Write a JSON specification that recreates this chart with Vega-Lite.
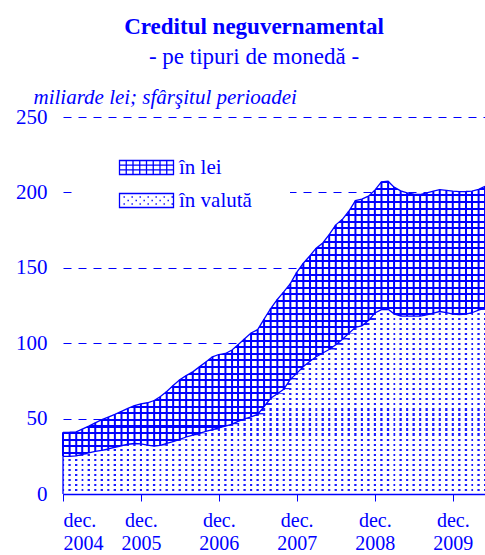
{
  "$schema": "https://vega.github.io/schema/vega-lite/v6.json",
  "width": 422,
  "height": 377,
  "autosize": "none",
  "padding": {"left": 63, "top": 117, "right": 0, "bottom": 61},
  "background": "white",
  "title": {
    "text": "Creditul neguvernamental",
    "subtitle": "- pe tipuri de monedă -",
    "anchor": "middle",
    "frame": "group",
    "dx": -20,
    "offset": 17,
    "font": "Liberation Serif",
    "fontSize": 23,
    "fontWeight": "bold",
    "color": "#0000ff",
    "subtitleFont": "Liberation Serif",
    "subtitleFontSize": 23,
    "subtitleColor": "#0000ff",
    "subtitlePadding": 7
  },
  "config": {
    "view": {"stroke": null},
    "font": "Liberation Serif",
    "axisY": {
      "domain": false,
      "ticks": false,
      "grid": true,
      "gridColor": "#0000ff",
      "gridDash": [8, 7],
      "gridWidth": 1,
      "tickCount": 5,
      "labelFont": "Liberation Serif",
      "labelFontSize": 21,
      "labelColor": "#0000ff",
      "labelPadding": 16,
      "titleAngle": 0,
      "titleAlign": "left",
      "titleBaseline": "alphabetic",
      "titleX": -30,
      "titleY": -14,
      "titleFont": "Liberation Serif",
      "titleFontStyle": "italic",
      "titleFontWeight": "normal",
      "titleFontSize": 21,
      "titleColor": "#0000ff"
    },
    "axisX": {
      "grid": false,
      "domainColor": "#0000ff",
      "domainWidth": 1.5,
      "tickColor": "#0000ff",
      "tickSize": 7,
      "tickWidth": 1,
      "labelFont": "Liberation Serif",
      "labelFontSize": 20,
      "labelColor": "#0000ff",
      "labelPadding": 9,
      "labelLineHeight": 23
    }
  },
  "data": {
    "values": [
      {"date": "2004-12-01", "valuta": 25.0, "lei": 15.9, "total": 40.9},
      {"date": "2005-01-01", "valuta": 25.0, "lei": 16.0, "total": 41.0},
      {"date": "2005-02-01", "valuta": 25.3, "lei": 15.9, "total": 41.2},
      {"date": "2005-03-01", "valuta": 26.3, "lei": 16.7, "total": 43.0},
      {"date": "2005-04-01", "valuta": 27.3, "lei": 17.7, "total": 45.0},
      {"date": "2005-05-01", "valuta": 28.2, "lei": 19.0, "total": 47.2},
      {"date": "2005-06-01", "valuta": 29.0, "lei": 20.3, "total": 49.3},
      {"date": "2005-07-01", "valuta": 30.0, "lei": 21.0, "total": 51.0},
      {"date": "2005-08-01", "valuta": 31.0, "lei": 21.8, "total": 52.8},
      {"date": "2005-09-01", "valuta": 32.0, "lei": 22.8, "total": 54.8},
      {"date": "2005-10-01", "valuta": 33.0, "lei": 23.8, "total": 56.8},
      {"date": "2005-11-01", "valuta": 33.5, "lei": 25.1, "total": 58.6},
      {"date": "2005-12-01", "valuta": 33.3, "lei": 26.5, "total": 59.8},
      {"date": "2006-01-01", "valuta": 32.4, "lei": 28.1, "total": 60.5},
      {"date": "2006-02-01", "valuta": 31.7, "lei": 30.3, "total": 62.0},
      {"date": "2006-03-01", "valuta": 32.2, "lei": 32.3, "total": 64.5},
      {"date": "2006-04-01", "valuta": 33.5, "lei": 34.5, "total": 68.0},
      {"date": "2006-05-01", "valuta": 34.8, "lei": 37.1, "total": 71.9},
      {"date": "2006-06-01", "valuta": 36.2, "lei": 39.6, "total": 75.8},
      {"date": "2006-07-01", "valuta": 37.8, "lei": 40.7, "total": 78.5},
      {"date": "2006-08-01", "valuta": 39.0, "lei": 42.0, "total": 81.0},
      {"date": "2006-09-01", "valuta": 40.2, "lei": 44.1, "total": 84.3},
      {"date": "2006-10-01", "valuta": 41.5, "lei": 46.1, "total": 87.6},
      {"date": "2006-11-01", "valuta": 42.7, "lei": 48.3, "total": 91.0},
      {"date": "2006-12-01", "valuta": 43.8, "lei": 48.7, "total": 92.5},
      {"date": "2007-01-01", "valuta": 45.0, "lei": 48.2, "total": 93.2},
      {"date": "2007-02-01", "valuta": 46.3, "lei": 49.2, "total": 95.5},
      {"date": "2007-03-01", "valuta": 48.2, "lei": 50.8, "total": 99.0},
      {"date": "2007-04-01", "valuta": 49.8, "lei": 53.2, "total": 103.0},
      {"date": "2007-05-01", "valuta": 51.2, "lei": 55.6, "total": 106.8},
      {"date": "2007-06-01", "valuta": 52.8, "lei": 56.2, "total": 109.0},
      {"date": "2007-07-01", "valuta": 58.0, "lei": 58.0, "total": 116.0},
      {"date": "2007-08-01", "valuta": 63.5, "lei": 59.5, "total": 123.0},
      {"date": "2007-09-01", "valuta": 66.5, "lei": 62.5, "total": 129.0},
      {"date": "2007-10-01", "valuta": 69.5, "lei": 64.5, "total": 134.0},
      {"date": "2007-11-01", "valuta": 76.0, "lei": 63.5, "total": 139.5},
      {"date": "2007-12-01", "valuta": 80.0, "lei": 67.0, "total": 147.0},
      {"date": "2008-01-01", "valuta": 84.5, "lei": 68.5, "total": 153.0},
      {"date": "2008-02-01", "valuta": 88.0, "lei": 70.0, "total": 158.0},
      {"date": "2008-03-01", "valuta": 91.0, "lei": 72.0, "total": 163.0},
      {"date": "2008-04-01", "valuta": 93.5, "lei": 73.0, "total": 166.5},
      {"date": "2008-05-01", "valuta": 95.8, "lei": 76.2, "total": 172.0},
      {"date": "2008-06-01", "valuta": 99.0, "lei": 79.5, "total": 178.5},
      {"date": "2008-07-01", "valuta": 102.4, "lei": 79.6, "total": 182.0},
      {"date": "2008-08-01", "valuta": 106.5, "lei": 81.0, "total": 187.5},
      {"date": "2008-09-01", "valuta": 110.5, "lei": 84.0, "total": 194.5},
      {"date": "2008-10-01", "valuta": 111.5, "lei": 84.0, "total": 195.5},
      {"date": "2008-11-01", "valuta": 115.0, "lei": 82.5, "total": 197.5},
      {"date": "2008-12-01", "valuta": 120.0, "lei": 81.5, "total": 201.5},
      {"date": "2009-01-01", "valuta": 122.3, "lei": 84.7, "total": 207.0},
      {"date": "2009-02-01", "valuta": 122.5, "lei": 84.9, "total": 207.4},
      {"date": "2009-03-01", "valuta": 119.5, "lei": 84.0, "total": 203.5},
      {"date": "2009-04-01", "valuta": 118.0, "lei": 83.0, "total": 201.0},
      {"date": "2009-05-01", "valuta": 117.9, "lei": 81.8, "total": 199.7},
      {"date": "2009-06-01", "valuta": 117.9, "lei": 80.9, "total": 198.8},
      {"date": "2009-07-01", "valuta": 118.0, "lei": 80.6, "total": 198.6},
      {"date": "2009-08-01", "valuta": 118.8, "lei": 80.9, "total": 199.7},
      {"date": "2009-09-01", "valuta": 120.0, "lei": 80.8, "total": 200.8},
      {"date": "2009-10-01", "valuta": 121.0, "lei": 80.8, "total": 201.8},
      {"date": "2009-11-01", "valuta": 120.3, "lei": 81.0, "total": 201.3},
      {"date": "2009-12-01", "valuta": 119.3, "lei": 81.5, "total": 200.8},
      {"date": "2010-01-01", "valuta": 119.0, "lei": 81.5, "total": 200.5},
      {"date": "2010-02-01", "valuta": 119.3, "lei": 81.3, "total": 200.6},
      {"date": "2010-03-01", "valuta": 120.2, "lei": 80.6, "total": 200.8},
      {"date": "2010-04-01", "valuta": 122.0, "lei": 80.0, "total": 202.0},
      {"date": "2010-05-01", "valuta": 123.5, "lei": 80.5, "total": 204.0}
    ]
  },
  "encoding": {
    "x": {
      "field": "date",
      "type": "temporal",
      "scale": {
        "type": "utc",
        "domain": [
          {"year": 2004, "month": 12, "date": 1, "utc": true},
          {"year": 2010, "month": 5, "date": 1, "utc": true}
        ]
      },
      "axis": {
        "title": null,
        "zindex": 1,
        "values": [
          {"year": 2004, "month": 12, "date": 1, "utc": true},
          {"year": 2005, "month": 12, "date": 1, "utc": true},
          {"year": 2006, "month": 12, "date": 1, "utc": true},
          {"year": 2007, "month": 12, "date": 1, "utc": true},
          {"year": 2008, "month": 12, "date": 1, "utc": true},
          {"year": 2009, "month": 12, "date": 1, "utc": true}
        ],
        "labelExpr": "['dec.', utcFormat(datum.value, '%Y')]"
      }
    }
  },
  "layer": [
    {
      "mark": {
        "type": "area",
        "interpolate": "linear",
        "color": {
          "gradient": "linear", "x1": 0, "y1": 0, "x2": 0, "y2": 1,
          "stops": [
            {"offset": 0, "color": "#1a1aff"}, {"offset": 0.0118, "color": "#1a1aff"}, {"offset": 0.0118, "color": "#fff"}, {"offset": 0.027, "color": "#fff"},
            {"offset": 0.027, "color": "#1a1aff"}, {"offset": 0.0388, "color": "#1a1aff"}, {"offset": 0.0388, "color": "#fff"}, {"offset": 0.054, "color": "#fff"},
            {"offset": 0.054, "color": "#1a1aff"}, {"offset": 0.0658, "color": "#1a1aff"}, {"offset": 0.0658, "color": "#fff"}, {"offset": 0.081, "color": "#fff"},
            {"offset": 0.081, "color": "#1a1aff"}, {"offset": 0.0928, "color": "#1a1aff"}, {"offset": 0.0928, "color": "#fff"}, {"offset": 0.108, "color": "#fff"},
            {"offset": 0.108, "color": "#1a1aff"}, {"offset": 0.1198, "color": "#1a1aff"}, {"offset": 0.1198, "color": "#fff"}, {"offset": 0.135, "color": "#fff"},
            {"offset": 0.135, "color": "#1a1aff"}, {"offset": 0.1468, "color": "#1a1aff"}, {"offset": 0.1468, "color": "#fff"}, {"offset": 0.162, "color": "#fff"},
            {"offset": 0.162, "color": "#1a1aff"}, {"offset": 0.1738, "color": "#1a1aff"}, {"offset": 0.1738, "color": "#fff"}, {"offset": 0.189, "color": "#fff"},
            {"offset": 0.189, "color": "#1a1aff"}, {"offset": 0.2008, "color": "#1a1aff"}, {"offset": 0.2008, "color": "#fff"}, {"offset": 0.216, "color": "#fff"},
            {"offset": 0.216, "color": "#1a1aff"}, {"offset": 0.2278, "color": "#1a1aff"}, {"offset": 0.2278, "color": "#fff"}, {"offset": 0.243, "color": "#fff"},
            {"offset": 0.243, "color": "#1a1aff"}, {"offset": 0.2548, "color": "#1a1aff"}, {"offset": 0.2548, "color": "#fff"}, {"offset": 0.27, "color": "#fff"},
            {"offset": 0.27, "color": "#1a1aff"}, {"offset": 0.2818, "color": "#1a1aff"}, {"offset": 0.2818, "color": "#fff"}, {"offset": 0.297, "color": "#fff"},
            {"offset": 0.297, "color": "#1a1aff"}, {"offset": 0.3088, "color": "#1a1aff"}, {"offset": 0.3088, "color": "#fff"}, {"offset": 0.324, "color": "#fff"},
            {"offset": 0.324, "color": "#1a1aff"}, {"offset": 0.3358, "color": "#1a1aff"}, {"offset": 0.3358, "color": "#fff"}, {"offset": 0.351, "color": "#fff"},
            {"offset": 0.351, "color": "#1a1aff"}, {"offset": 0.3628, "color": "#1a1aff"}, {"offset": 0.3628, "color": "#fff"}, {"offset": 0.378, "color": "#fff"},
            {"offset": 0.378, "color": "#1a1aff"}, {"offset": 0.3898, "color": "#1a1aff"}, {"offset": 0.3898, "color": "#fff"}, {"offset": 0.405, "color": "#fff"},
            {"offset": 0.405, "color": "#1a1aff"}, {"offset": 0.4168, "color": "#1a1aff"}, {"offset": 0.4168, "color": "#fff"}, {"offset": 0.432, "color": "#fff"},
            {"offset": 0.432, "color": "#1a1aff"}, {"offset": 0.4438, "color": "#1a1aff"}, {"offset": 0.4438, "color": "#fff"}, {"offset": 0.459, "color": "#fff"},
            {"offset": 0.459, "color": "#1a1aff"}, {"offset": 0.4708, "color": "#1a1aff"}, {"offset": 0.4708, "color": "#fff"}, {"offset": 0.486, "color": "#fff"},
            {"offset": 0.486, "color": "#1a1aff"}, {"offset": 0.4978, "color": "#1a1aff"}, {"offset": 0.4978, "color": "#fff"}, {"offset": 0.513, "color": "#fff"},
            {"offset": 0.513, "color": "#1a1aff"}, {"offset": 0.5248, "color": "#1a1aff"}, {"offset": 0.5248, "color": "#fff"}, {"offset": 0.54, "color": "#fff"},
            {"offset": 0.54, "color": "#1a1aff"}, {"offset": 0.5518, "color": "#1a1aff"}, {"offset": 0.5518, "color": "#fff"}, {"offset": 0.567, "color": "#fff"},
            {"offset": 0.567, "color": "#1a1aff"}, {"offset": 0.5788, "color": "#1a1aff"}, {"offset": 0.5788, "color": "#fff"}, {"offset": 0.594, "color": "#fff"},
            {"offset": 0.594, "color": "#1a1aff"}, {"offset": 0.6058, "color": "#1a1aff"}, {"offset": 0.6058, "color": "#fff"}, {"offset": 0.621, "color": "#fff"},
            {"offset": 0.621, "color": "#1a1aff"}, {"offset": 0.6328, "color": "#1a1aff"}, {"offset": 0.6328, "color": "#fff"}, {"offset": 0.648, "color": "#fff"},
            {"offset": 0.648, "color": "#1a1aff"}, {"offset": 0.6598, "color": "#1a1aff"}, {"offset": 0.6598, "color": "#fff"}, {"offset": 0.675, "color": "#fff"},
            {"offset": 0.675, "color": "#1a1aff"}, {"offset": 0.6868, "color": "#1a1aff"}, {"offset": 0.6868, "color": "#fff"}, {"offset": 0.702, "color": "#fff"},
            {"offset": 0.702, "color": "#1a1aff"}, {"offset": 0.7138, "color": "#1a1aff"}, {"offset": 0.7138, "color": "#fff"}, {"offset": 0.729, "color": "#fff"},
            {"offset": 0.729, "color": "#1a1aff"}, {"offset": 0.7408, "color": "#1a1aff"}, {"offset": 0.7408, "color": "#fff"}, {"offset": 0.756, "color": "#fff"},
            {"offset": 0.756, "color": "#1a1aff"}, {"offset": 0.7678, "color": "#1a1aff"}, {"offset": 0.7678, "color": "#fff"}, {"offset": 0.783, "color": "#fff"},
            {"offset": 0.783, "color": "#1a1aff"}, {"offset": 0.7948, "color": "#1a1aff"}, {"offset": 0.7948, "color": "#fff"}, {"offset": 0.81, "color": "#fff"},
            {"offset": 0.81, "color": "#1a1aff"}, {"offset": 0.8218, "color": "#1a1aff"}, {"offset": 0.8218, "color": "#fff"}, {"offset": 0.837, "color": "#fff"},
            {"offset": 0.837, "color": "#1a1aff"}, {"offset": 0.8488, "color": "#1a1aff"}, {"offset": 0.8488, "color": "#fff"}, {"offset": 0.864, "color": "#fff"},
            {"offset": 0.864, "color": "#1a1aff"}, {"offset": 0.8758, "color": "#1a1aff"}, {"offset": 0.8758, "color": "#fff"}, {"offset": 0.891, "color": "#fff"},
            {"offset": 0.891, "color": "#1a1aff"}, {"offset": 0.9028, "color": "#1a1aff"}, {"offset": 0.9028, "color": "#fff"}, {"offset": 0.918, "color": "#fff"},
            {"offset": 0.918, "color": "#1a1aff"}, {"offset": 0.9298, "color": "#1a1aff"}, {"offset": 0.9298, "color": "#fff"}, {"offset": 0.945, "color": "#fff"},
            {"offset": 0.945, "color": "#1a1aff"}, {"offset": 0.9568, "color": "#1a1aff"}, {"offset": 0.9568, "color": "#fff"}, {"offset": 0.972, "color": "#fff"},
            {"offset": 0.972, "color": "#1a1aff"}, {"offset": 0.9838, "color": "#1a1aff"}, {"offset": 0.9838, "color": "#fff"}, {"offset": 1, "color": "#fff"}
          ]
        }
      },
      "encoding": {
        "y": {
          "field": "valuta",
          "type": "quantitative",
          "stack": null,
          "title": "miliarde lei; sfârşitul perioadei",
          "scale": {"domain": [0, 250], "nice": false}
        }
      }
    },
    {
      "mark": {"type": "rule", "color": "white", "strokeWidth": 4.3, "strokeCap": "butt", "xOffset": 3.25},
      "encoding": {
        "y": {"field": "valuta", "type": "quantitative", "title": "miliarde lei; sfârşitul perioadei"}
      }
    },
    {
      "mark": {
        "type": "area",
        "interpolate": "linear",
        "color": {
          "gradient": "linear", "x1": 0, "y1": 0, "x2": 0, "y2": 1,
          "stops": [
            {"offset": 0, "color": "#00f"}, {"offset": 0.0073, "color": "#00f"}, {"offset": 0.0073, "color": "#fff"}, {"offset": 0.024, "color": "#fff"},
            {"offset": 0.024, "color": "#00f"}, {"offset": 0.0313, "color": "#00f"}, {"offset": 0.0313, "color": "#fff"}, {"offset": 0.048, "color": "#fff"},
            {"offset": 0.048, "color": "#00f"}, {"offset": 0.0553, "color": "#00f"}, {"offset": 0.0553, "color": "#fff"}, {"offset": 0.072, "color": "#fff"},
            {"offset": 0.072, "color": "#00f"}, {"offset": 0.0793, "color": "#00f"}, {"offset": 0.0793, "color": "#fff"}, {"offset": 0.096, "color": "#fff"},
            {"offset": 0.096, "color": "#00f"}, {"offset": 0.1033, "color": "#00f"}, {"offset": 0.1033, "color": "#fff"}, {"offset": 0.12, "color": "#fff"},
            {"offset": 0.12, "color": "#00f"}, {"offset": 0.1273, "color": "#00f"}, {"offset": 0.1273, "color": "#fff"}, {"offset": 0.144, "color": "#fff"},
            {"offset": 0.144, "color": "#00f"}, {"offset": 0.1513, "color": "#00f"}, {"offset": 0.1513, "color": "#fff"}, {"offset": 0.168, "color": "#fff"},
            {"offset": 0.168, "color": "#00f"}, {"offset": 0.1753, "color": "#00f"}, {"offset": 0.1753, "color": "#fff"}, {"offset": 0.192, "color": "#fff"},
            {"offset": 0.192, "color": "#00f"}, {"offset": 0.1993, "color": "#00f"}, {"offset": 0.1993, "color": "#fff"}, {"offset": 0.216, "color": "#fff"},
            {"offset": 0.216, "color": "#00f"}, {"offset": 0.2233, "color": "#00f"}, {"offset": 0.2233, "color": "#fff"}, {"offset": 0.24, "color": "#fff"},
            {"offset": 0.24, "color": "#00f"}, {"offset": 0.2473, "color": "#00f"}, {"offset": 0.2473, "color": "#fff"}, {"offset": 0.264, "color": "#fff"},
            {"offset": 0.264, "color": "#00f"}, {"offset": 0.2713, "color": "#00f"}, {"offset": 0.2713, "color": "#fff"}, {"offset": 0.288, "color": "#fff"},
            {"offset": 0.288, "color": "#00f"}, {"offset": 0.2953, "color": "#00f"}, {"offset": 0.2953, "color": "#fff"}, {"offset": 0.312, "color": "#fff"},
            {"offset": 0.312, "color": "#00f"}, {"offset": 0.3193, "color": "#00f"}, {"offset": 0.3193, "color": "#fff"}, {"offset": 0.336, "color": "#fff"},
            {"offset": 0.336, "color": "#00f"}, {"offset": 0.3433, "color": "#00f"}, {"offset": 0.3433, "color": "#fff"}, {"offset": 0.36, "color": "#fff"},
            {"offset": 0.36, "color": "#00f"}, {"offset": 0.3673, "color": "#00f"}, {"offset": 0.3673, "color": "#fff"}, {"offset": 0.384, "color": "#fff"},
            {"offset": 0.384, "color": "#00f"}, {"offset": 0.3913, "color": "#00f"}, {"offset": 0.3913, "color": "#fff"}, {"offset": 0.408, "color": "#fff"},
            {"offset": 0.408, "color": "#00f"}, {"offset": 0.4153, "color": "#00f"}, {"offset": 0.4153, "color": "#fff"}, {"offset": 0.432, "color": "#fff"},
            {"offset": 0.432, "color": "#00f"}, {"offset": 0.4393, "color": "#00f"}, {"offset": 0.4393, "color": "#fff"}, {"offset": 0.456, "color": "#fff"},
            {"offset": 0.456, "color": "#00f"}, {"offset": 0.4633, "color": "#00f"}, {"offset": 0.4633, "color": "#fff"}, {"offset": 0.48, "color": "#fff"},
            {"offset": 0.48, "color": "#00f"}, {"offset": 0.4873, "color": "#00f"}, {"offset": 0.4873, "color": "#fff"}, {"offset": 0.504, "color": "#fff"},
            {"offset": 0.504, "color": "#00f"}, {"offset": 0.5113, "color": "#00f"}, {"offset": 0.5113, "color": "#fff"}, {"offset": 0.528, "color": "#fff"},
            {"offset": 0.528, "color": "#00f"}, {"offset": 0.5353, "color": "#00f"}, {"offset": 0.5353, "color": "#fff"}, {"offset": 0.552, "color": "#fff"},
            {"offset": 0.552, "color": "#00f"}, {"offset": 0.5593, "color": "#00f"}, {"offset": 0.5593, "color": "#fff"}, {"offset": 0.576, "color": "#fff"},
            {"offset": 0.576, "color": "#00f"}, {"offset": 0.5833, "color": "#00f"}, {"offset": 0.5833, "color": "#fff"}, {"offset": 0.6, "color": "#fff"},
            {"offset": 0.6, "color": "#00f"}, {"offset": 0.6073, "color": "#00f"}, {"offset": 0.6073, "color": "#fff"}, {"offset": 0.624, "color": "#fff"},
            {"offset": 0.624, "color": "#00f"}, {"offset": 0.6313, "color": "#00f"}, {"offset": 0.6313, "color": "#fff"}, {"offset": 0.648, "color": "#fff"},
            {"offset": 0.648, "color": "#00f"}, {"offset": 0.6553, "color": "#00f"}, {"offset": 0.6553, "color": "#fff"}, {"offset": 0.672, "color": "#fff"},
            {"offset": 0.672, "color": "#00f"}, {"offset": 0.6793, "color": "#00f"}, {"offset": 0.6793, "color": "#fff"}, {"offset": 0.696, "color": "#fff"},
            {"offset": 0.696, "color": "#00f"}, {"offset": 0.7033, "color": "#00f"}, {"offset": 0.7033, "color": "#fff"}, {"offset": 0.72, "color": "#fff"},
            {"offset": 0.72, "color": "#00f"}, {"offset": 0.7273, "color": "#00f"}, {"offset": 0.7273, "color": "#fff"}, {"offset": 0.744, "color": "#fff"},
            {"offset": 0.744, "color": "#00f"}, {"offset": 0.7513, "color": "#00f"}, {"offset": 0.7513, "color": "#fff"}, {"offset": 0.768, "color": "#fff"},
            {"offset": 0.768, "color": "#00f"}, {"offset": 0.7753, "color": "#00f"}, {"offset": 0.7753, "color": "#fff"}, {"offset": 0.792, "color": "#fff"},
            {"offset": 0.792, "color": "#00f"}, {"offset": 0.7993, "color": "#00f"}, {"offset": 0.7993, "color": "#fff"}, {"offset": 0.816, "color": "#fff"},
            {"offset": 0.816, "color": "#00f"}, {"offset": 0.8233, "color": "#00f"}, {"offset": 0.8233, "color": "#fff"}, {"offset": 0.84, "color": "#fff"},
            {"offset": 0.84, "color": "#00f"}, {"offset": 0.8473, "color": "#00f"}, {"offset": 0.8473, "color": "#fff"}, {"offset": 0.864, "color": "#fff"},
            {"offset": 0.864, "color": "#00f"}, {"offset": 0.8713, "color": "#00f"}, {"offset": 0.8713, "color": "#fff"}, {"offset": 0.888, "color": "#fff"},
            {"offset": 0.888, "color": "#00f"}, {"offset": 0.8953, "color": "#00f"}, {"offset": 0.8953, "color": "#fff"}, {"offset": 0.912, "color": "#fff"},
            {"offset": 0.912, "color": "#00f"}, {"offset": 0.9193, "color": "#00f"}, {"offset": 0.9193, "color": "#fff"}, {"offset": 0.936, "color": "#fff"},
            {"offset": 0.936, "color": "#00f"}, {"offset": 0.9433, "color": "#00f"}, {"offset": 0.9433, "color": "#fff"}, {"offset": 0.96, "color": "#fff"},
            {"offset": 0.96, "color": "#00f"}, {"offset": 0.9673, "color": "#00f"}, {"offset": 0.9673, "color": "#fff"}, {"offset": 0.984, "color": "#fff"},
            {"offset": 0.984, "color": "#00f"}, {"offset": 0.9913, "color": "#00f"}, {"offset": 0.9913, "color": "#fff"}, {"offset": 1, "color": "#fff"}
          ]
        }
      },
      "encoding": {
        "y": {"field": "total", "type": "quantitative", "stack": null, "title": "miliarde lei; sfârşitul perioadei"},
        "y2": {"field": "valuta"}
      }
    },
    {
      "mark": {"type": "rule", "color": "#0000ff", "strokeWidth": 2},
      "encoding": {
        "y": {"field": "total", "type": "quantitative", "title": "miliarde lei; sfârşitul perioadei"},
        "y2": {"field": "valuta"}
      }
    },
    {
      "transform": [{"filter": {"field": "date", "lte": {"year": 2004, "month": 12, "date": 2, "utc": true}}}],
      "mark": {"type": "rule", "color": "#0000ff", "strokeWidth": 1.3},
      "encoding": {
        "y": {"field": "valuta", "type": "quantitative", "title": "miliarde lei; sfârşitul perioadei"}
      }
    },
    {
      "mark": {"type": "line", "color": "#0000ff", "strokeWidth": 1.3, "interpolate": "linear"},
      "encoding": {
        "y": {"field": "valuta", "type": "quantitative", "title": "miliarde lei; sfârşitul perioadei"}
      }
    },
    {
      "mark": {"type": "line", "color": "#0000ff", "strokeWidth": 1.3, "interpolate": "linear"},
      "encoding": {
        "y": {"field": "total", "type": "quantitative", "title": "miliarde lei; sfârşitul perioadei"}
      }
    },
    {
      "transform": [{"filter": "datum.total > 1000"}],
      "mark": {"type": "point", "filled": false, "color": "#0000ff", "strokeWidth": 1.3, "opacity": 1, "size": 196},
      "encoding": {
        "y": {"field": "total", "type": "quantitative", "title": "miliarde lei; sfârşitul perioadei"},
        "shape": {
          "datum": "în lei",
          "type": "nominal",
          "scale": {
            "domain": ["în lei", "în valută"],
            "range": [
              "M-1,-1H6.714V1H-1ZM-0.036,-1V1M0.929,-1V1M1.893,-1V1M2.857,-1V1M3.821,-1V1M4.786,-1V1M5.75,-1V1M-1,-0.333H6.714M-1,0.333H6.714",
              "M-1,-1H6.714V1H-1ZM-0.43,-0.5h0.2M0.71,-0.5h0.2M1.86,-0.5h0.2M3,-0.5h0.2M4.14,-0.5h0.2M5.29,-0.5h0.2M6.43,-0.5h0.2M0.14,0h0.2M1.29,0h0.2M2.43,0h0.2M3.57,0h0.2M4.71,0h0.2M5.86,0h0.2M-0.43,0.5h0.2M0.71,0.5h0.2M1.86,0.5h0.2M3,0.5h0.2M4.14,0.5h0.2M5.29,0.5h0.2M6.43,0.5h0.2"
            ]
          },
          "legend": {
            "title": null,
            "orient": "none",
            "legendX": 15,
            "legendY": 2,
            "padding": 38,
            "fillColor": "white",
            "symbolSize": 196,
            "symbolStrokeColor": "#0000ff",
            "symbolStrokeWidth": 1.3,
            "labelFont": "Liberation Serif",
            "labelFontSize": 21,
            "labelColor": "#0000ff",
            "labelOffset": 42,
            "rowPadding": 11
          }
        }
      }
    }
  ]
}
